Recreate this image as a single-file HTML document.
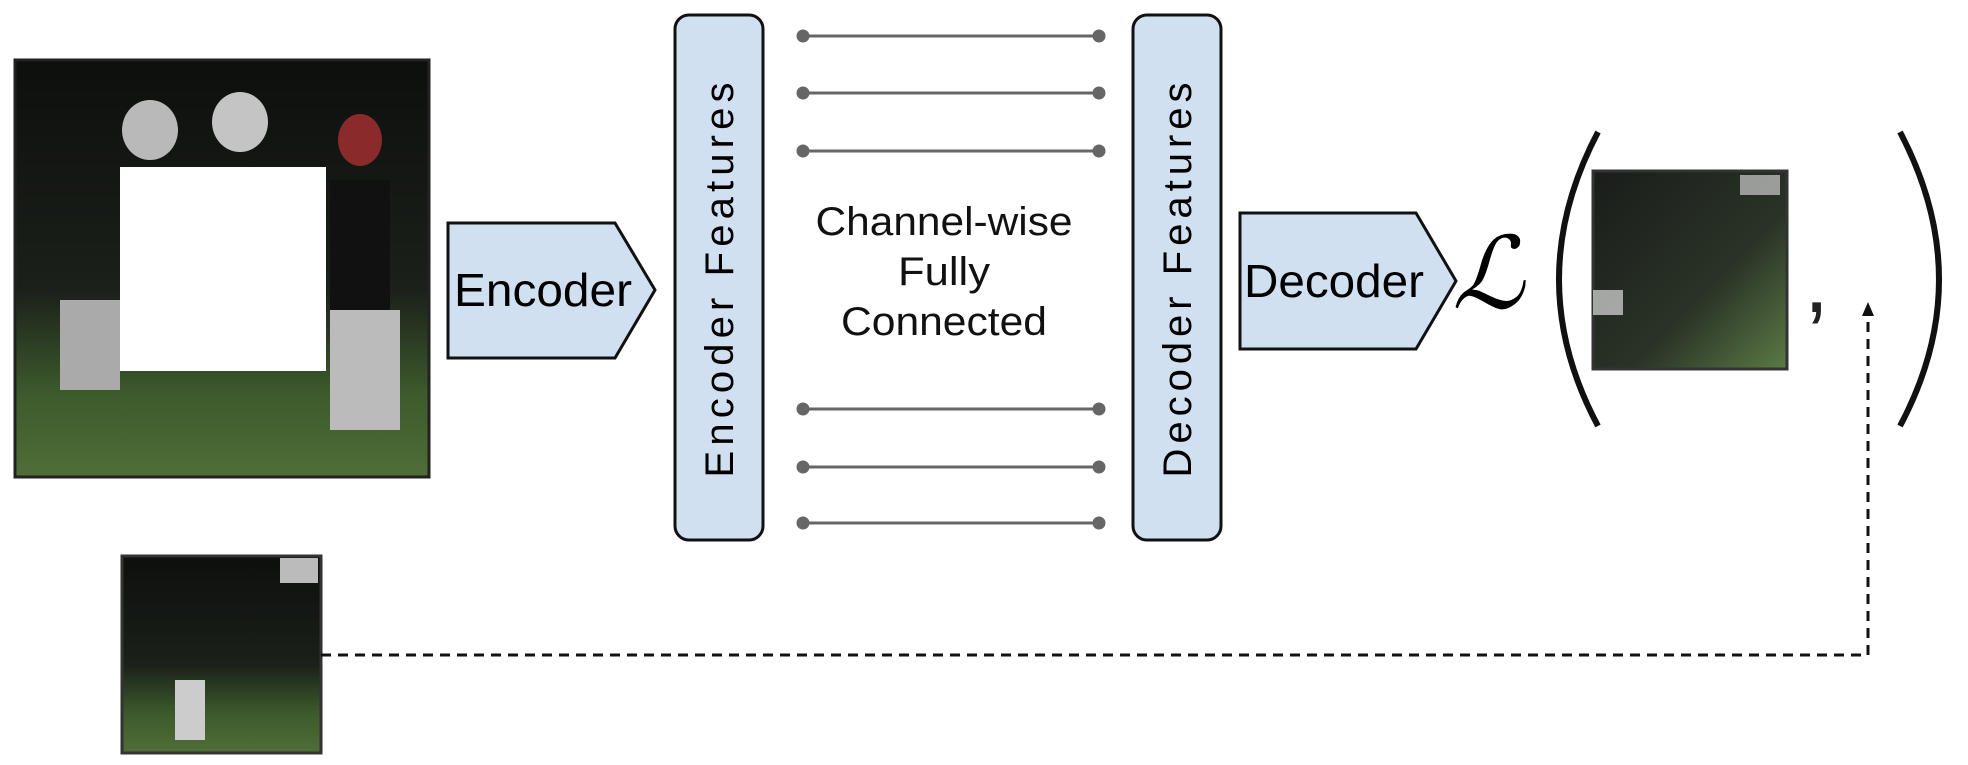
<!DOCTYPE html>
<html><head><meta charset="utf-8"><style>
html,body{margin:0;padding:0;background:#fff;width:1968px;height:765px;overflow:hidden}
text{font-family:"Liberation Sans",sans-serif}
</style></head><body>
<svg width="1968" height="765" viewBox="0 0 1968 765" xmlns="http://www.w3.org/2000/svg">
<defs>
<linearGradient id="ph" x1="0" y1="0" x2="0" y2="1">
<stop offset="0" stop-color="#0d0f0c"/><stop offset="0.55" stop-color="#1b201a"/><stop offset="0.8" stop-color="#3d5a2c"/><stop offset="1" stop-color="#4f6e37"/></linearGradient>
<linearGradient id="ph2" x1="0" y1="0" x2="1" y2="1">
<stop offset="0" stop-color="#1a1d1a"/><stop offset="0.6" stop-color="#2a3327"/><stop offset="1" stop-color="#5b7a45"/></linearGradient>
</defs>
<rect x="15" y="60" width="414" height="417" fill="url(#ph)" stroke="#222" stroke-width="3"/>
<ellipse cx="150" cy="130" rx="28" ry="30" fill="#b9b9b9"/>
<ellipse cx="240" cy="122" rx="28" ry="30" fill="#c4c4c4"/>
<ellipse cx="360" cy="140" rx="22" ry="26" fill="#8a2a2a"/>
<rect x="330" y="180" width="60" height="130" fill="#111"/>
<rect x="330" y="310" width="70" height="120" fill="#bbb"/>
<rect x="60" y="300" width="60" height="90" fill="#aaa"/>
<rect x="120" y="167" width="206" height="204" fill="#fff"/>
<polygon points="448,223 615,223 655,290 615,358 448,358" fill="#d0e0f0" stroke="#111" stroke-width="3"/>
<text x="543" y="306" font-size="46" text-anchor="middle" textLength="178" lengthAdjust="spacingAndGlyphs">Encoder</text>
<rect x="675" y="15" width="88" height="525" rx="14" fill="#d0e0f0" stroke="#111" stroke-width="3"/>
<text transform="translate(733,280) rotate(-90)" font-size="40" text-anchor="middle" textLength="395" lengthAdjust="spacing">Encoder  Features</text>
<rect x="1133" y="15" width="88" height="525" rx="14" fill="#d0e0f0" stroke="#111" stroke-width="3"/>
<text transform="translate(1191,280) rotate(-90)" font-size="40" text-anchor="middle" textLength="395" lengthAdjust="spacing">Decoder  Features</text>
<g stroke="#666" stroke-width="3" fill="#666">
<line x1="803" y1="36" x2="1099" y2="36"/><circle cx="803" cy="36" r="5"/><circle cx="1099" cy="36" r="5"/>
<line x1="803" y1="93" x2="1099" y2="93"/><circle cx="803" cy="93" r="5"/><circle cx="1099" cy="93" r="5"/>
<line x1="803" y1="151" x2="1099" y2="151"/><circle cx="803" cy="151" r="5"/><circle cx="1099" cy="151" r="5"/>
<line x1="803" y1="409" x2="1099" y2="409"/><circle cx="803" cy="409" r="5"/><circle cx="1099" cy="409" r="5"/>
<line x1="803" y1="467" x2="1099" y2="467"/><circle cx="803" cy="467" r="5"/><circle cx="1099" cy="467" r="5"/>
<line x1="803" y1="523" x2="1099" y2="523"/><circle cx="803" cy="523" r="5"/><circle cx="1099" cy="523" r="5"/>
</g>
<g font-size="40" text-anchor="middle" fill="#111">
<text x="944" y="235" textLength="257" lengthAdjust="spacingAndGlyphs">Channel-wise</text>
<text x="944" y="285" textLength="92" lengthAdjust="spacingAndGlyphs">Fully</text>
<text x="944" y="335" textLength="206" lengthAdjust="spacingAndGlyphs">Connected</text>
</g>
<polygon points="1240,213 1416,213 1456,281 1416,349 1240,349" fill="#d0e0f0" stroke="#111" stroke-width="3"/>
<text x="1334" y="297" font-size="46" text-anchor="middle" textLength="180" lengthAdjust="spacingAndGlyphs">Decoder</text>
<text x="1452" y="308" font-size="100" font-style="italic" font-family="Liberation Serif,serif">ℒ</text>
<path d="M1598,132 Q1520,280 1598,426" fill="none" stroke="#111" stroke-width="6"/>
<path d="M1900,132 Q1978,280 1900,426" fill="none" stroke="#111" stroke-width="6"/>
<rect x="1593" y="171" width="194" height="198" fill="url(#ph2)" stroke="#333" stroke-width="3"/>
<rect x="1593" y="290" width="30" height="25" fill="#ddd" opacity="0.7"/>
<rect x="1740" y="175" width="40" height="20" fill="#ccc" opacity="0.7"/>
<text x="1804" y="312" font-size="90" font-family="Liberation Serif,serif" fill="#222">,</text>
<rect x="122" y="556" width="199" height="197" fill="url(#ph)" stroke="#333" stroke-width="3"/>
<rect x="280" y="558" width="38" height="25" fill="#bbb"/>
<rect x="175" y="680" width="30" height="60" fill="#ccc"/>
<path d="M321,655 H1868 V312" fill="none" stroke="#111" stroke-width="3" stroke-dasharray="10,7"/>
<polygon points="1862,316 1874,316 1868,302" fill="#111"/>
</svg>
</body></html>
